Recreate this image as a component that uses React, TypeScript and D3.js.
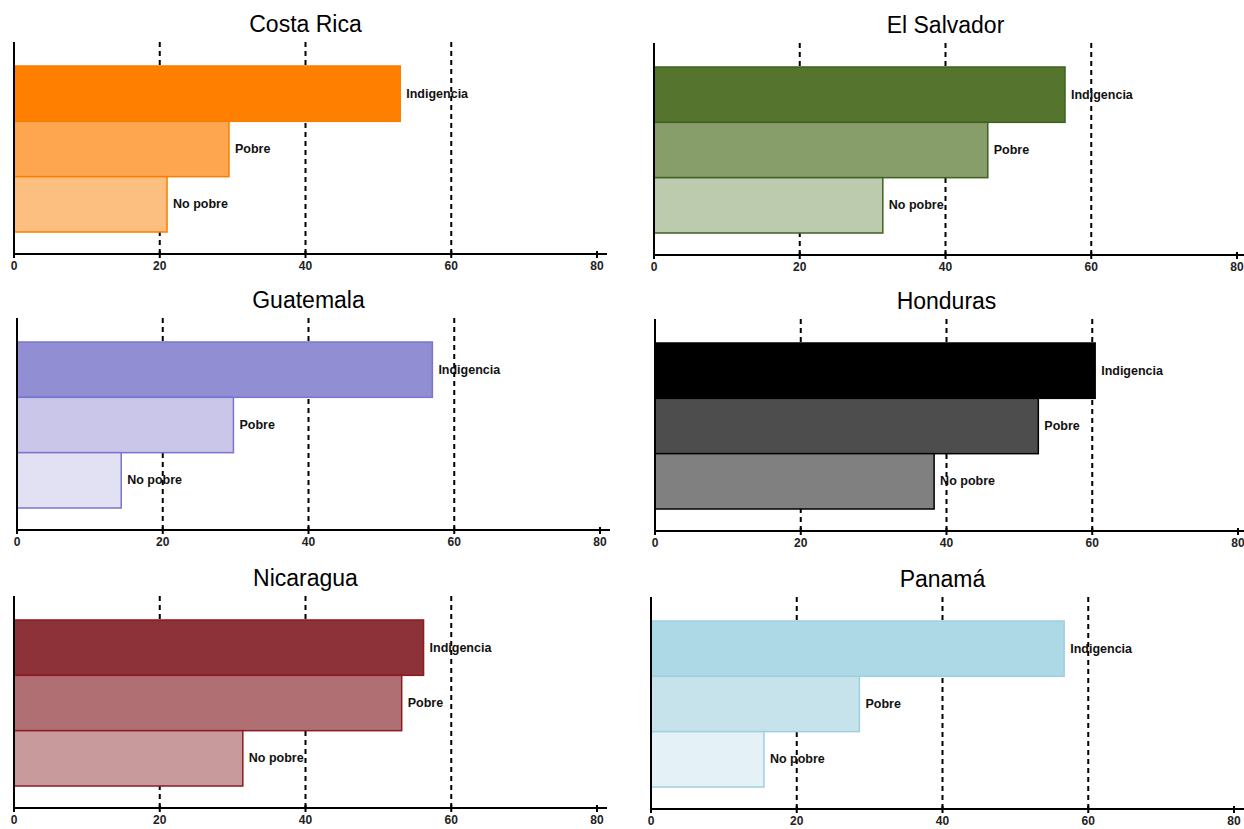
import React from "react";
import * as d3 from "d3";

const categories = ["Indigencia", "Pobre", "No pobre"];
const countries = ["Costa Rica", "El Salvador", "Guatemala", "Honduras", "Nicaragua", "Panamá"];
const costaRica = [53, 29.5, 21];
const elSalvador = [56.4, 45.8, 31.4];
const guatemala = [57, 29.7, 14.3];
const honduras = [60.4, 52.6, 38.3];
const nicaragua = [56.2, 53.2, 31.4];
const panama = [56.7, 28.6, 15.5];
const seriesValues = [costaRica, elSalvador, guatemala, honduras, nicaragua, panama];
const xTicks = [0, 20, 40, 60, 80];
const gridTicks = [20, 40, 60];

const fills = [
  ["#ff8000", "#fda54f", "#fdbf80"],
  ["#55752f", "#879e6b", "#bccaae"],
  ["#928ed3", "#c9c6ea", "#e2e1f4"],
  ["#000000", "#4d4d4d", "#808080"],
  ["#8e3239", "#b07073", "#c89a9c"],
  ["#add8e6", "#c6e3ec", "#e4f2f7"],
];
const strokes = ["#f77f00", "#3f6120", "#7b74d0", "#000000", "#8b1a22", "#9fd0e0"];

// layout: [x of zero, y of axis]
const layout = [
  [14, 254],
  [654, 255],
  [17, 530],
  [655, 531],
  [14, 808],
  [651, 809],
];

const WIDTH80 = 583;

function Panel({ idx }: { idx: number }) {
  const [x0, yAxis] = layout[idx];
  const x = d3.scaleLinear().domain([0, 80]).range([x0, x0 + WIDTH80]);
  const y = d3.scaleBand().domain(categories).range([yAxis - 188, yAxis - 22]).padding(0);
  const top = yAxis - 212;
  const vals = seriesValues[idx];
  return (
    <g>
      <text
        x={x(40)}
        y={yAxis - 222}
        textAnchor="middle"
        fontFamily="Liberation Sans, Arial, sans-serif"
        fontSize={23}
        fill="#000"
      >
        {countries[idx]}
      </text>
      {gridTicks.map((t) => (
        <line
          key={t}
          x1={x(t)}
          x2={x(t)}
          y1={top}
          y2={yAxis}
          stroke="#000"
          strokeWidth={2}
          strokeDasharray="5,4"
        />
      ))}
      {categories.map((c, i) => (
        <g key={c}>
          <rect
            x={x(0)}
            y={y(c)!}
            width={x(vals[i]) - x(0)}
            height={y.bandwidth()}
            fill={fills[idx][i]}
            stroke={strokes[idx]}
            strokeWidth={1.5}
          />
          <text
            x={x(vals[i]) + 6}
            y={y(c)! + y.bandwidth() / 2 + 4}
            fontFamily="Liberation Sans, Arial, sans-serif"
            fontWeight="bold"
            fontSize={12.5}
            fill="#111"
          >
            {c}
          </text>
        </g>
      ))}
      <line x1={x0} x2={x0} y1={top} y2={yAxis} stroke="#000" strokeWidth={2} />
      <line x1={x0} x2={x(80) + 10} y1={yAxis} y2={yAxis} stroke="#000" strokeWidth={2} />
      {xTicks.map((t) => (
        <g key={t}>
          <line x1={x(t)} x2={x(t)} y1={yAxis - 3} y2={yAxis + 4} stroke="#000" strokeWidth={2} />
          <text
            x={x(t)}
            y={yAxis + 16}
            textAnchor="middle"
            fontFamily="Liberation Sans, Arial, sans-serif"
            fontWeight="bold"
            fontSize={12}
            fill="#222"
          >
            {t}
          </text>
        </g>
      ))}
    </g>
  );
}

export default function App() {
  return (
    <svg
      width={1244}
      height={829}
      style={{ position: "absolute", left: 0, top: 0, background: "#fff" }}
    >
      <rect width={1244} height={829} fill="#fff" />
      {countries.map((c, i) => (
        <Panel key={c} idx={i} />
      ))}
    </svg>
  );
}
